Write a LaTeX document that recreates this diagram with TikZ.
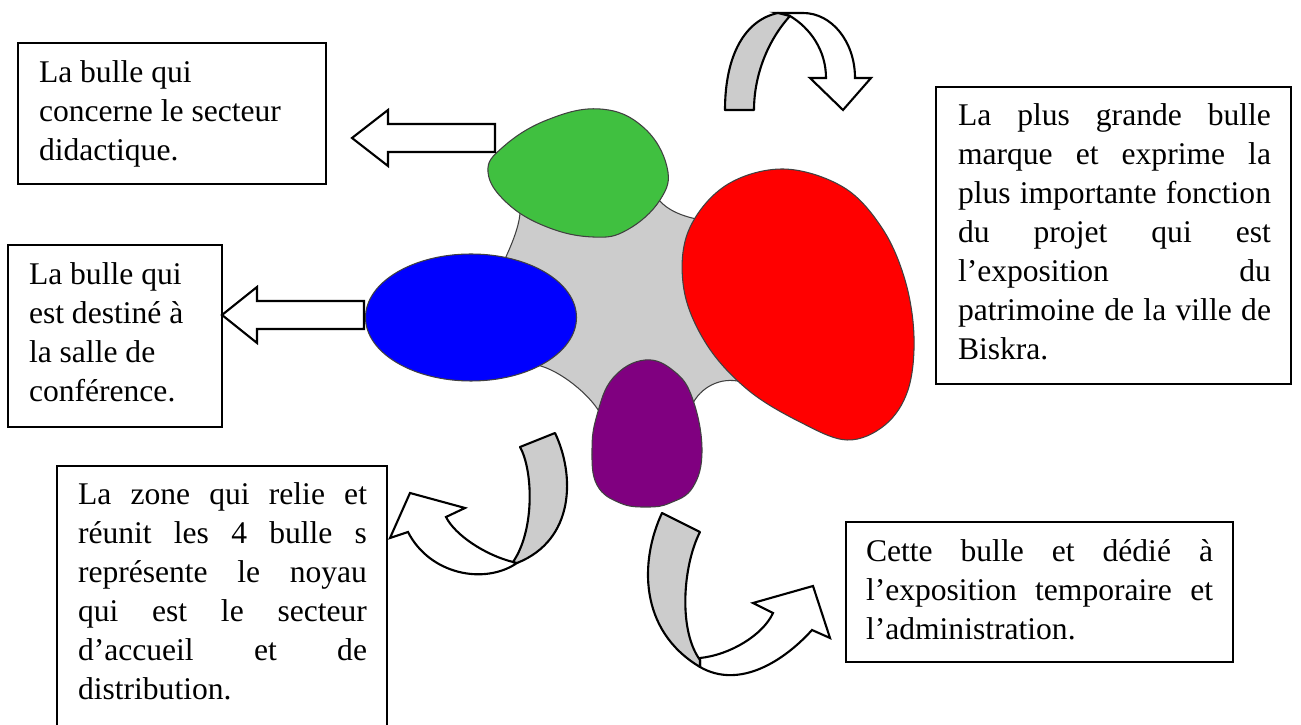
\documentclass[tikz,border=0pt]{standalone}
\usepackage{fontspec}
\setmainfont{Liberation Serif}
\definecolor{bgreen}{RGB}{64,192,64}
\definecolor{bblue}{RGB}{0,0,255}
\definecolor{bred}{RGB}{255,0,0}
\definecolor{bpurple}{RGB}{128,0,128}
\definecolor{coregray}{RGB}{204,204,204}
\definecolor{ribgray}{RGB}{204,204,204}
\newcommand\jl[1]{\makebox[\linewidth][s]{#1}}
\newcommand\fs{\fontsize{12}{14.82}\selectfont}
\hbadness=10000
\begin{document}
\begin{tikzpicture}[x=0.38pt,y=-0.38pt,
  box/.style={draw=black, line width=0.8pt},
  txt/.style={anchor=base west, inner sep=0pt, outer sep=0pt},
  blockarrow/.style={draw=black, fill=white, line width=0.8pt, line join=miter},
  ribbon/.style={draw=black, fill=ribgray, line width=0.8pt, line join=round},
  ribbonfront/.style={draw=black, fill=white, line width=0.8pt, line join=miter},
  bubble/.style={draw=black!75, line width=0.4pt}]
\useasboundingbox (0,0) rectangle (1301,725);
\fill[white] (0,0) rectangle (1301,725);

% ---- central core ----
\filldraw[bubble, fill=coregray] (520,213) -- (659,200)
  .. controls (667,210) and (683,217) .. (702,220) -- (742,382)
  .. controls (720,376) and (700,388) .. (692,405) -- (600,413)
  .. controls (590,395) and (560,370) .. (537,365) -- (505,259)
  .. controls (510,248) and (519,228) .. (520,213) -- cycle;

% ---- bubbles ----
\draw[bubble, fill=bgreen] plot[smooth cycle, tension=0.7] coordinates {
  (600,109) (643,127) (667,167) (660,200) (627,230) (593,237) (547,227)
  (507,203) (488,172) (503,147) (547,120)};
\draw[bubble, fill=bblue] (471,317.5) ellipse [x radius=105.5, y radius=63.5];
\draw[bubble, fill=bred] plot[smooth cycle, tension=0.6] coordinates {
  (783,169) (843,187) (882,228) (905,280) (914,337) (908,390) (885,425)
  (847,440) (800,422) (748,390) (707,345) (684,290) (688,232) (725,186)};
\draw[bubble, fill=bpurple] plot[smooth cycle, tension=0.7] coordinates {
  (645,360) (675,372) (693,400) (702,450) (693,487) (670,503) (647,507)
  (620,503) (597,485) (592,450) (597,415) (613,378)};

% ---- straight block arrows ----
\draw[blockarrow] (495,124) -- (388,124) -- (388,110) -- (352,138)
  -- (388,166) -- (388,152) -- (495,152) -- cycle;
\draw[blockarrow] (364,301) -- (257,301) -- (257,287) -- (222,315)
  -- (257,343) -- (257,329) -- (364,329) -- cycle;

% ---- top curved arrow ----
\draw[ribbonfront] (778,13) -- (803,13) .. controls (832,13) and (855,42) .. (855,78)
  -- (871,78) -- (843,110) -- (810,78) -- (826,78)
  .. controls (826,50) and (810,28) .. (790,16) -- cycle;
\draw[ribbon] (725,110) .. controls (725,55) and (745,20) .. (778,13) -- (790,16)
  .. controls (768,40) and (754,75) .. (754,110) -- cycle;

% ---- bottom-left curved arrow ----
\draw[ribbonfront] (513,562) .. controls (485,555) and (455,535) .. (446,517)
  -- (465,508) -- (410,493) -- (390,538) -- (408,532)
  .. controls (430,575) and (485,585) .. (517,563) -- cycle;
\draw[ribbon] (520,447) -- (555,433) .. controls (575,475) and (575,540) .. (517,563)
  -- (513,562) .. controls (535,530) and (533,470) .. (520,447) -- cycle;

% ---- bottom-right curved arrow ----
\draw[ribbonfront] (700,658) .. controls (730,655) and (763,635) .. (773,613)
  -- (753,603) -- (813,586) -- (830,638) -- (812,630)
  .. controls (785,660) and (740,690) .. (700,667) -- cycle;
\draw[ribbon] (662,513) -- (700,532) .. controls (683,565) and (678,630) .. (700,660)
  -- (700,667) .. controls (638,630) and (640,560) .. (662,513) -- cycle;

% ---- text boxes ----
\draw[box] (18,43) rectangle (326,184);
\node[txt] (t1) at (39,83) {\parbox[t]{120pt}{\fs La bulle qui\\concerne le secteur\\didactique.}};

\draw[box] (8,245) rectangle (222,427);
\node[txt] (t2) at (29,285) {\parbox[t]{80pt}{\fs La bulle qui\\est destiné à\\la salle de\\conférence.}};

\draw[box] (57,728) -- (57,466) -- (387,466) -- (387,728);
\node[txt] (t3) at (78,505) {\parbox[t]{109.82pt}{\fs
  \jl{La zone qui relie et}\\
  \jl{réunit les 4 bulle s}\\
  \jl{représente le noyau}\\
  \jl{qui est le secteur}\\
  \jl{d’accueil et de}\\
  distribution.}};

\draw[box] (936,87) rectangle (1291,384);
\node[txt] (t4) at (958,126) {\parbox[t]{118.94pt}{\fs
  \jl{La plus grande bulle}\\
  \jl{marque et exprime la}\\
  \jl{plus importante fonction}\\
  \jl{du projet qui est}\\
  \jl{l’exposition du}\\
  \jl{patrimoine de la ville de}\\
  Biskra.}};

\draw[box] (846,522) rectangle (1233,662);
\node[txt] (t5) at (866,562) {\parbox[t]{131.86pt}{\fs
  \jl{Cette bulle et dédié à}\\
  \jl{l’exposition temporaire et}\\
  l’administration.}};
\end{tikzpicture}
\end{document}
